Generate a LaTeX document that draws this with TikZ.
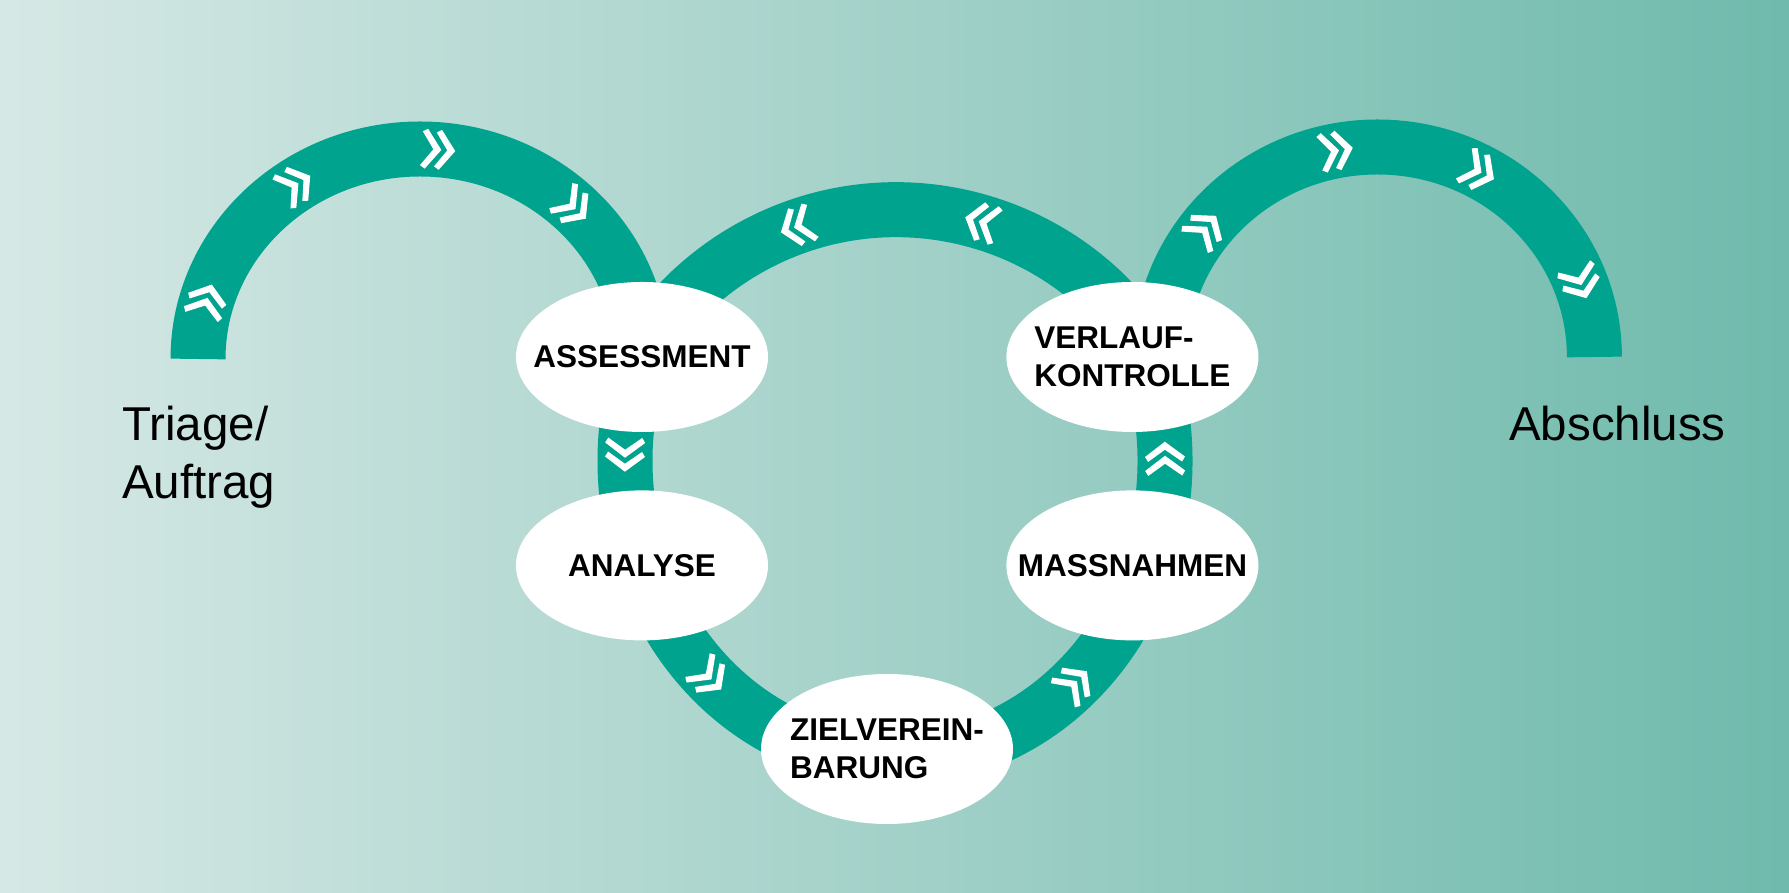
\documentclass[tikz,border=0pt]{standalone}
\usepackage{fontspec}
\setmainfont{Liberation Sans}
\usetikzlibrary{positioning}
\usetikzlibrary{shapes.geometric}
\usetikzlibrary{decorations.markings}
\usetikzlibrary{backgrounds}

\definecolor{bandgreen}{HTML}{00A38E}
\definecolor{bgleft}{HTML}{D6E8E5}
\definecolor{bgright}{HTML}{6FBAAC}

\newcommand{\dchev}{%
	\foreach \s in {-7,7} {
		\fill[white, xshift=\s] (8,0) -- (-7,20) -- (-12,17) -- (0,0) -- (-12,-17) -- (-7,-20) -- cycle;
	}}

\begin{document}
\begin{tikzpicture}[x=1pt, y=1pt,
	phase/.style={ellipse, fill=white, minimum width=252pt, minimum height=150pt, inner sep=0pt},
	lbl/.style={font=\fontsize{31.5}{38}\selectfont\bfseries, align=left},
	big/.style={font=\fontsize{47.5}{58}\selectfont, align=left, inner sep=0pt},
	band/.style={draw=bandgreen, line width=55pt},
	chevs at/.style={postaction={decorate, decoration={markings, mark=at position #1 with {\dchev}}}}]
	\useasboundingbox (0,0) rectangle (1789,893);
	\node[phase, label={[lbl]center:ASSESSMENT}] (assess) at (642,536) {};
	\node[phase, right=238pt of assess, label={[lbl]center:{VERLAUF-\\KONTROLLE}}] (verlauf) {};
	\node[phase, below=58pt of assess, label={[lbl]center:ANALYSE}] (analyse) {};
	\node[phase, below=58pt of verlauf, label={[lbl]center:MASSNAHMEN}] (massn) {};
	\node[phase, label={[lbl]center:{ZIELVEREIN-\\BARUNG}}] (ziel) at (887,144) {};
	\node[big, anchor=west] (triage) at (122,436) {Triage/\\Auftrag};
	\node[big, anchor=base west] (abschluss) at (1509,452) {Abschluss};
	\coordinate (tristart) at (198,534);
	\begin{scope}[on background layer]
		\shade[left color=bgleft, right color=bgright] (0,0) rectangle (1789,893);
		% arches and loop, chevrons follow the direction of travel
		\draw[band, chevs at/.list={0.09,0.31,0.53,0.75}] (tristart) arc[start angle=180, end angle=0, x radius=222, y radius=210];
		\draw[band, chevs at/.list={0.364,0.666}] ([xshift=22pt]verlauf.center) arc[start angle=30.6, end angle=149.4, radius=300];
		\draw[band, chevs at/.list={0.092,0.313,0.683,0.908}] (assess.center) arc[start angle=159.6, end angle=380.4, x radius=270, y radius=298];
		\draw[band, chevs at/.list={0.209,0.441,0.66,0.889}] ([xshift=28pt]verlauf.center) arc[start angle=180, end angle=0, x radius=217, y radius=210];
	\end{scope}
\end{tikzpicture}
\end{document}
